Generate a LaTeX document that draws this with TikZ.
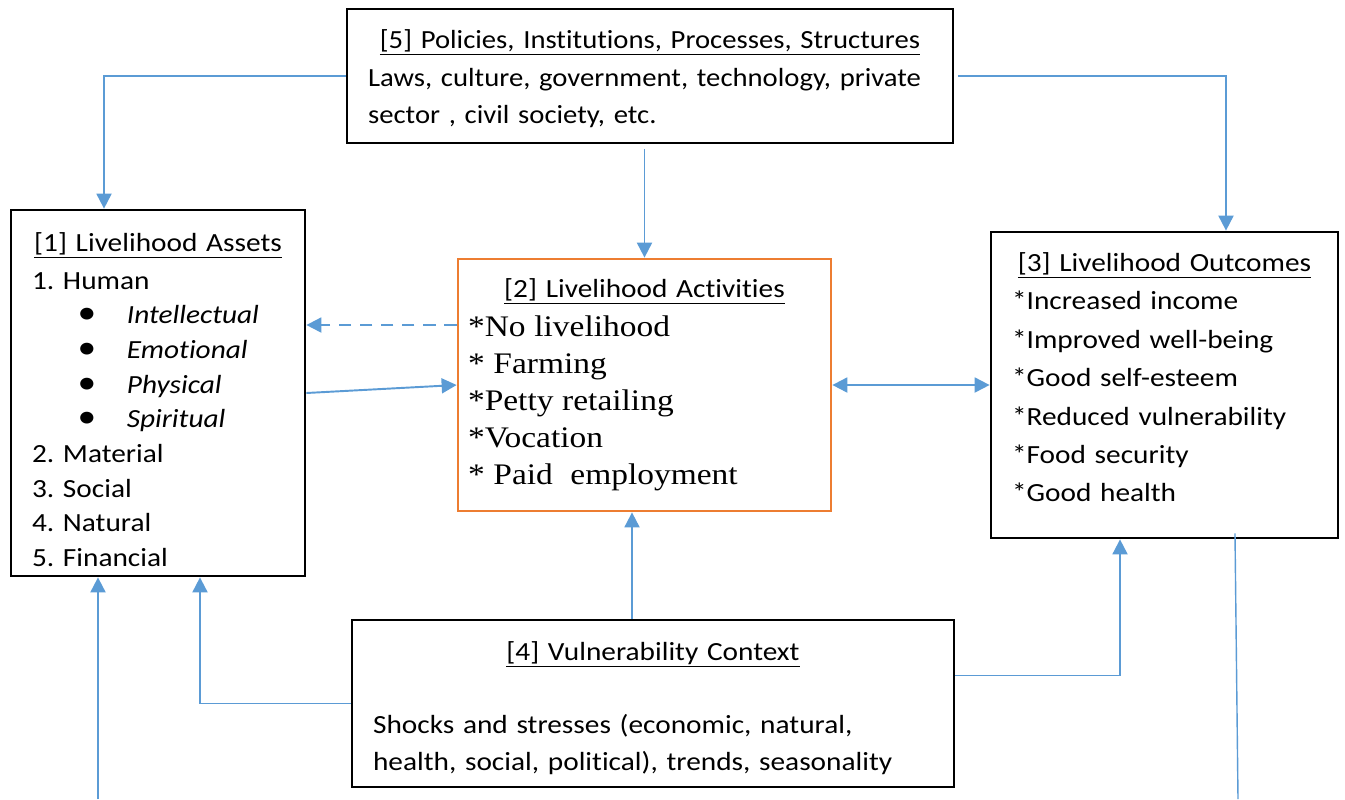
\documentclass[tikz,border=0pt]{standalone}
\usepackage{fontspec}
\setmainfont{Carlito}[FakeStretch=1.12, Ligatures=NoCommon]
\newfontfamily\polfont{Carlito}[FakeStretch=1.095, Ligatures=NoCommon]
\newfontfamily\tnr{Liberation Serif}[FakeStretch=1.12]
\usetikzlibrary{arrows.meta}
\definecolor{lblue}{HTML}{5B9BD5}
\definecolor{lorange}{HTML}{ED7D31}
\frenchspacing
\newcommand\bul[1]{\makebox[54pt][l]{\hspace*{26pt}{\fontsize{19}{19}\selectfont\textbullet}}\textit{#1}}

\begin{document}
\begin{tikzpicture}[
	x=0.02cm, y=-0.02cm,
	bx/.style = {rectangle, draw=black, line width=1.6pt, inner xsep=0.42cm, inner ysep=0pt, align=left},
	lk/.style = {draw=lblue, line width=1.1pt, -{Triangle[length=0.3cm, width=0.3cm]}},
	dl/.style = {lk, dashed, dash pattern=on 7pt off 5pt}
	]
	\useasboundingbox (0,0) rectangle (1345,799);

	%Boxes
	\node[bx, text width=11.28cm, minimum height=2.68cm, font=\polfont\fontsize{14.9}{21.5}\selectfont]	(pol)	at	(650, 76)
		{\makebox[\hsize]{\rule{0pt}{14pt}\underline{[5] Policies, Institutions, Processes, Structures}}\\
		 \mbox{Laws, culture, government, technology, private}\\
		 \mbox{sector , civil society, etc.}};
	\node[bx, text width=5.04cm, minimum height=7.32cm, font=\fontsize{14.9}{19.7}\selectfont]	(ast)	at	(158, 393)
		{\makebox[\hsize]{\rule{0pt}{18pt}\underline{[1] Livelihood Assets}}\\[2pt]
		 1. Human\\
		 \bul{Intellectual}\\
		 \bul{Emotional}\\
		 \bul{Physical}\\
		 \bul{Spiritual}\\
		 2. Material\\
		 3. Social\\
		 4. Natural\\
		 5. Financial};
	\node[bx, draw=lorange, inner xsep=0.2cm, text width=7.06cm, minimum height=5.04cm, font=\fontsize{14.9}{21.1}\selectfont]	(act)	at	(644.5, 385)
		{\makebox[\hsize]{\underline{[2] Livelihood Activities}}\\[1pt]
		 \tnr\fontsize{17}{21.1}\selectfont {*}No livelihood\\
		 {*} Farming\\
		 {*}Petty retailing\\
		 {*}Vocation\\
		 {*} Paid\ \ employment};
	\node[bx, text width=6.1cm, minimum height=6.12cm, font=\fontsize{14.9}{21.9}\selectfont]	(out)	at	(1164.5, 385)
		{\makebox[\hsize]{\underline{[3] Livelihood Outcomes}}\\
		 {*}Increased income\\
		 {*}Improved well-being\\
		 {*}Good self-esteem\\
		 {*}Reduced vulnerability\\
		 {*}Food security\\
		 {*}Good health\rule[-9pt]{0pt}{0pt}};
	\node[bx, text width=11.2cm, minimum height=3.34cm, font=\fontsize{14.9}{21}\selectfont]	(vul)	at	(653, 703.5)
		{\makebox[\hsize]{\rule{0pt}{16pt}\underline{[4] Vulnerability Context}}\\[21pt]
		 Shocks and stresses (economic, natural,\\
		 health, social, political), trends, seasonality};

	%Loose ends
	\coordinate	(in)	at	(98, 799);
	\coordinate	(o1)	at	([xshift=1.41cm, yshift=0.12cm]out.south);
	\coordinate	(o2)	at	(1238, 799);

	%Lines
	\draw[lk]	(pol.west)	-|	([xshift=-1.08cm]ast.north);
	\draw[lk, shorten <=0.08cm]	(pol.east)	-|	([xshift=1.23cm]out.north);
	\draw[lk, shorten <=0.1cm]	(pol.south -| act.north)	--	(act.north);
	\draw[dl]	([yshift=1.2cm]act.west)	--	([yshift=1.2cm]act.west -| ast.east);
	\draw[lk]	(ast.east)	--	(act.west);
	\draw[lk, {Triangle[length=0.3cm, width=0.3cm]}-{Triangle[length=0.3cm, width=0.3cm]}]	(act.east)	--	(out.west);
	\draw[lk]	([xshift=-0.42cm]vul.north)	--	([xshift=-0.42cm]vul.north |- act.south);
	\draw[lk]	(vul.west)	-|	([xshift=0.84cm]ast.south);
	\draw[lk]	([yshift=0.56cm]vul.east)	-|	([xshift=-0.89cm]out.south);
	\draw[lk]	(in)	--	(in |- ast.south);
	\draw[draw=lblue, line width=0.8pt]	(o1)	--	(o2);

\end{tikzpicture}
\end{document}
